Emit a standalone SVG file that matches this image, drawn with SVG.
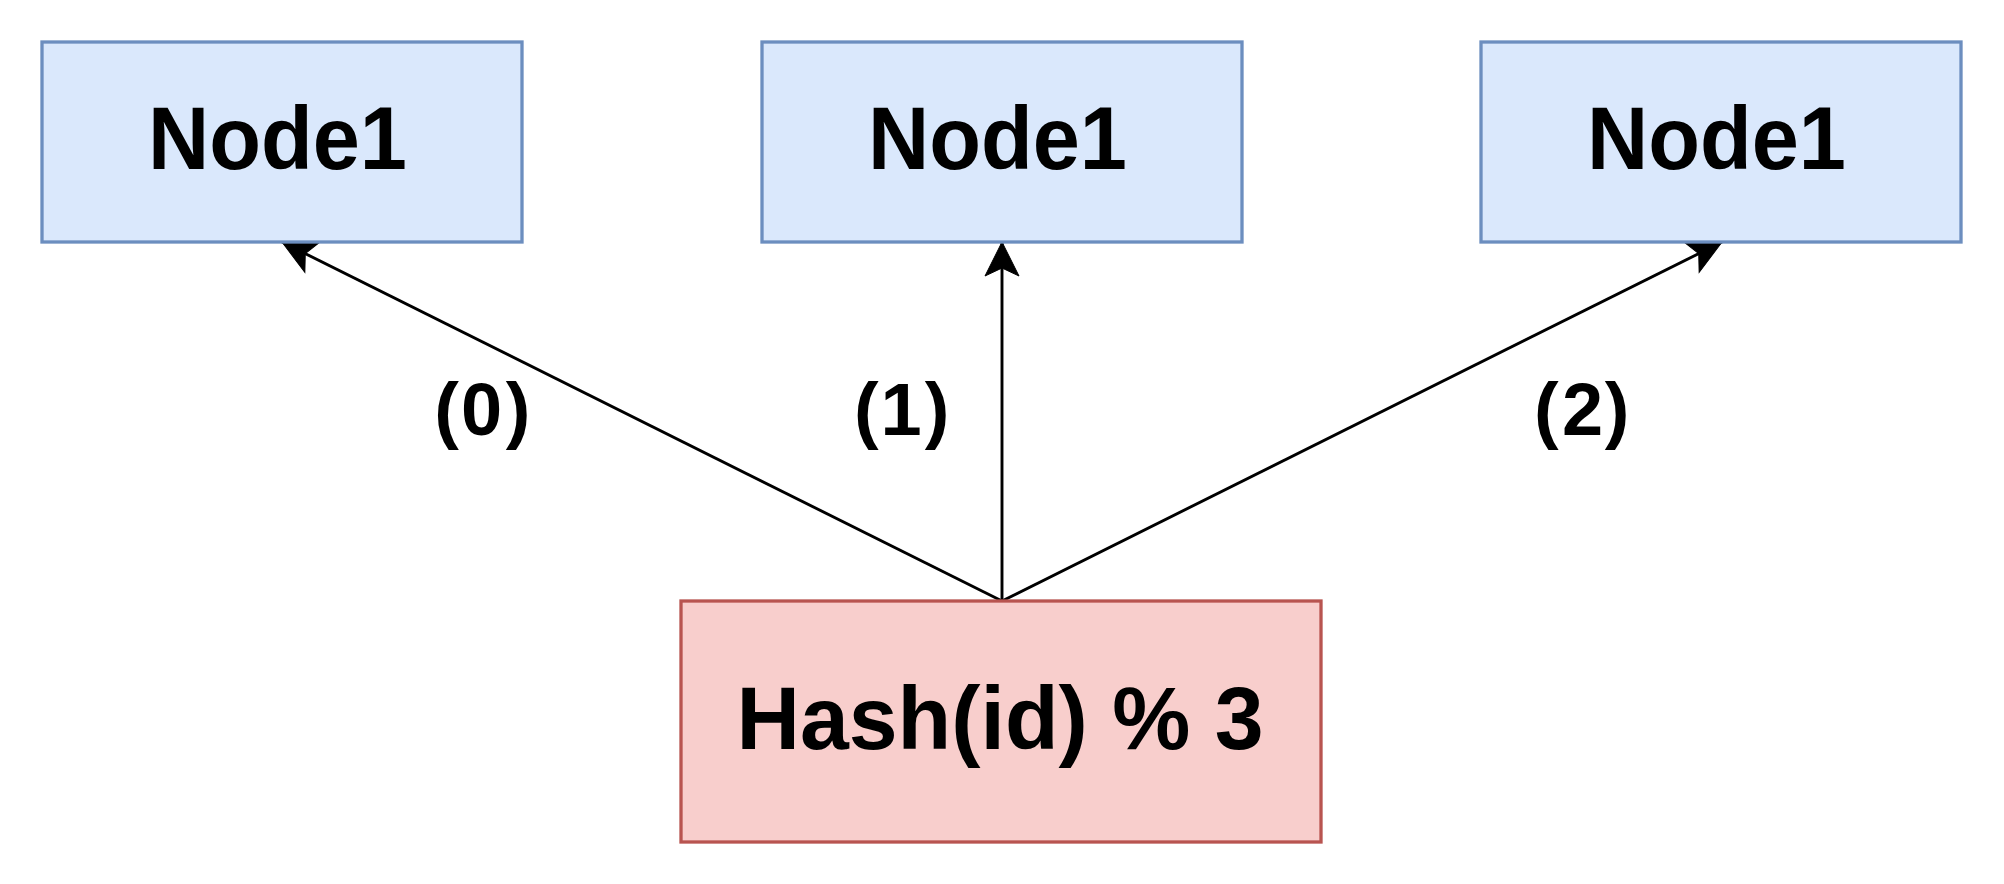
<svg xmlns="http://www.w3.org/2000/svg" width="2004" height="884" viewBox="0 0 2004 884">
<style>
.blue{fill:#dae8fc;stroke:#6c8ebf;stroke-width:3.3}
.red{fill:#f8cecc;stroke:#b85450;stroke-width:3.3}
.t{font-family:"Liberation Sans",Arial,sans-serif;font-weight:bold;fill:#000;text-anchor:middle}
.lbl{font-size:74px}
.nt{font-size:89px}
.edge{fill:none;stroke:#000;stroke-width:2.9}
</style>
<defs>
<marker id="arr" markerUnits="userSpaceOnUse" markerWidth="40" markerHeight="40" viewBox="-36 -20 40 40" refX="0" refY="0" orient="auto" overflow="visible">
<path d="M0,0 L-34,-17 L-26,0 L-34,17 Z" fill="#000" stroke="#000" stroke-width="1"/>
</marker>
</defs>
<rect width="2004" height="884" fill="#fff"/>
<g id="connectors">
<path class="edge" d="M1002,601 L282,242" marker-end="url(#arr)"/>
<path class="edge" d="M1002,601 L1002,242" marker-end="url(#arr)"/>
<path class="edge" d="M1002,601 L1722,242" marker-end="url(#arr)"/>
<text class="t lbl" x="446.5 481.7 518" y="435">(0)</text>
<text class="t lbl" x="866.3 901 937" y="435">(1)</text>
<text class="t lbl" x="1546.3 1582.5 1617" y="435">(2)</text>
</g>
<g id="node-left">
<rect class="blue" x="42" y="42" width="480" height="200"/>
<text class="t nt" x="277.5" y="169" textLength="259" lengthAdjust="spacingAndGlyphs">Node1</text>
</g>
<g id="node-middle">
<rect class="blue" x="762" y="42" width="480" height="200"/>
<text class="t nt" x="997.5" y="169" textLength="259" lengthAdjust="spacingAndGlyphs">Node1</text>
</g>
<g id="node-right">
<rect class="blue" x="1481" y="42" width="480" height="200"/>
<text class="t nt" x="1716.5" y="169" textLength="259" lengthAdjust="spacingAndGlyphs">Node1</text>
</g>
<g id="hash">
<rect class="red" x="681" y="601" width="640" height="241"/>
<text class="t" x="1000" y="748.5" font-size="88.5" textLength="527" lengthAdjust="spacingAndGlyphs">Hash(id) % 3</text>
</g>
</svg>
